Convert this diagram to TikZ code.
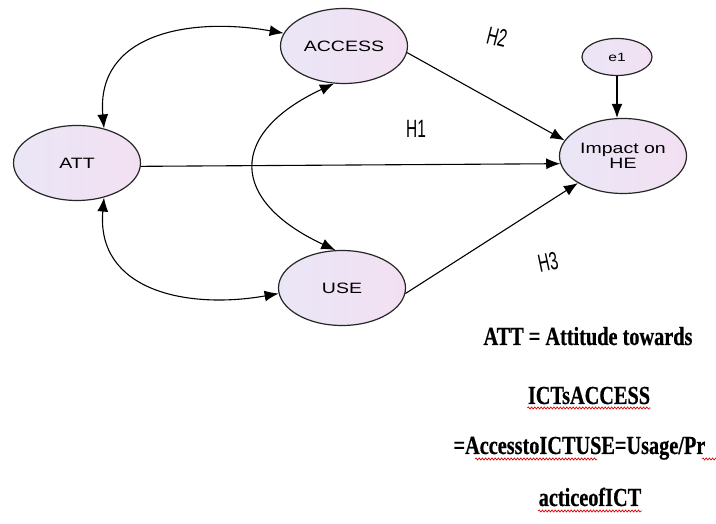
\documentclass[tikz,border=0pt]{standalone}
\usepackage{fontspec}
\usetikzlibrary{shapes.geometric, arrows.meta, decorations.pathmorphing}
\newfontfamily\nodefont[FakeStretch=1.3]{Liberation Sans}
\newfontfamily\hypfont[FakeStretch=0.62]{Liberation Sans}
\newfontfamily\keyfont[FakeStretch=0.78, BoldFeatures={FakeBold=0.6}]{Liberation Serif}
\definecolor{latfill}{RGB}{234,230,246}
\definecolor{latfillr}{RGB}{242,224,242}
\tikzstyle{latent}=[ellipse, draw=black!85, line width=1.2pt, left color=latfill, right color=latfillr, minimum width=127pt, minimum height=75pt, inner sep=0pt, align=center, font=\nodefont\fontsize{15}{15}\selectfont]
\tikzstyle{err}=[latent, minimum width=70pt, minimum height=37pt, font=\nodefont\fontsize{12}{12}\selectfont]
\tikzstyle{reg}=[-{Latex[length=14pt,width=11pt]}]
\tikzstyle{cov}=[{Latex[length=14pt,width=11pt]}-{Latex[length=14pt,width=11pt]}]
\tikzstyle{hyp}=[inner sep=1pt, font=\hypfont\fontsize{25}{25}\selectfont]
\tikzstyle{key}=[anchor=base, inner sep=0pt, font=\keyfont\bfseries\fontsize{26}{26}\selectfont]
\tikzstyle{spell}=[red!85!black, line width=0.7pt, decorate, decoration={snake, amplitude=1pt, segment length=3.2pt}]

\begin{document}
\begin{tikzpicture}[x=1pt, y=1pt, line width=1.1pt]
    \useasboundingbox (0,0) rectangle (716,524);
    \fill[white] (0,0) rectangle (716,524);
    \clip (0,0) rectangle (716,524);
    % latent variables
    \node [latent] (att) at (77,361) {ATT};
    \node [latent] (access) at (344,478) {ACCESS};
    \node [latent] (use) at (342,236) {USE};
    \node [latent] (impact) at (623,368) {Impact on\\HE};
    \node [err] (e1) at (617,467) {e1};
    % paths
    \draw[reg] (att.-3) -- (impact.187);
    \draw[reg] (access.-6) -- (impact.165);
    \draw[reg] (use.-5) -- (impact.211);
    \draw[reg] (e1.south) -- (e1.south |- impact.north);
    \draw[cov] (att.52) to[out=95, in=170, looseness=1.2] (access.168);
    \draw[cov] (att.-52) to[out=-95, in=190, looseness=1.2] (use.185);
    \draw[cov] (access.255) to[out=205, in=155, looseness=1.8] (use.100);
    % hypotheses
    \node [hyp, rotate=-14] (h2) at (497,487) {H2};
    \node [hyp] (h1) at (416,395) {H1};
    \node [hyp, rotate=12] (h3) at (548,262) {H3};
    % key
    \node [key] (key1) at (588,179) {ATT = Attitude towards};
    \node [key] (key2) at (589,120) {ICTsACCESS};
    \node [key, anchor=base west] (key3) at (453,70) {=AccesstoICTUSE=Usage/Pr};
    \node [key] (key4) at (590,18) {acticeofICT};
    \draw[spell] ([yshift=-4pt]key2.base west) -- ([yshift=-4pt]key2.base east);
    \draw[spell] (475,65) -- (597,65);
    \draw[spell] (702,65) -- (718,65);
    \draw[spell] ([yshift=-5pt]key4.base west) -- ([yshift=-5pt]key4.base east);
\end{tikzpicture}
\end{document}
